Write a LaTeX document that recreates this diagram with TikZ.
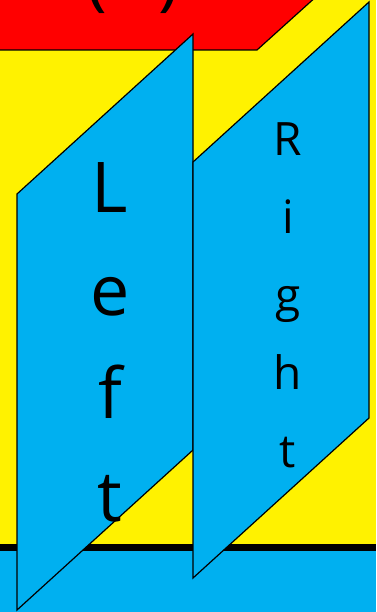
\documentclass[tikz,border=0pt]{standalone}
\usepackage{fontspec}
\setmainfont{Open Sans}
\definecolor{panelblue}{HTML}{00B0F0}

\begin{document}
\begin{tikzpicture}[x=1pt, y=-1pt, line join=miter]
  \useasboundingbox (0,0) rectangle (376,612);
  \tikzset{panel/.style={fill=panelblue, draw=black, line width=1.2pt},
           letters/.style={align=center, text=black}}
  % --- Background ---
  \fill[yellow] (0,0) rectangle (376,612);
  % --- Top band (red) with slanted end ---
  \filldraw[fill=red, draw=black, line width=1.2pt]
    (-5,-5) -- (318,-5) -- (257,50) -- (-5,50) -- cycle;
  \node[anchor=south, inner sep=0pt, font=\fontsize{70}{80}\selectfont]
    (brackets) at (133,14) {(\hspace{52pt})};
  % --- Bottom band ---
  \fill[panelblue] (0,547) rectangle (376,615);
  \draw[line width=7pt] (0,547) -- (376,547);
  % --- Left panel ---
  \path[panel] (17,194) -- (193,34) -- (193,450) -- (17,610) -- cycle;
  \node[letters, font=\fontsize{70}{103}\selectfont]
    (left) at (110,342) {L\\e\\f\\t};
  % --- Right panel ---
  \path[panel] (193,162) -- (369,2) -- (369,418) -- (193,578) -- cycle;
  \node[letters, font=\fontsize{46}{78}\selectfont]
    (right) at (288,295) {R\\i\\g\\h\\t};
\end{tikzpicture}
\end{document}
